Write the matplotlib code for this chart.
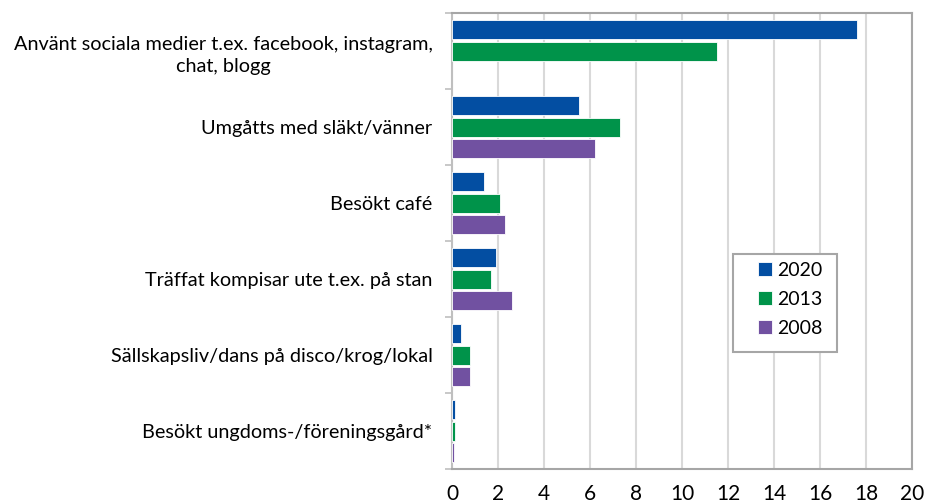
import numpy as np
import matplotlib.pyplot as plt
from matplotlib.patches import Rectangle

# data
categories = ["Använt sociala medier t.ex. facebook, instagram,\nchat, blogg",
              "Umgåtts med släkt/vänner",
              "Besökt café",
              "Träffat kompisar ute t.ex. på stan",
              "Sällskapsliv/dans på disco/krog/lokal",
              "Besökt ungdoms-/föreningsgård*"]
years = ["2020", "2013", "2008"]
v2020 = [17.6, 5.5, 1.4, 1.9, 0.4, 0.15]
v2013 = [11.5, 7.3, 2.1, 1.7, 0.8, 0.13]
v2008 = [np.nan, 6.2, 2.3, 2.6, 0.8, 0.1]
colors = ["#034ea2", "#00934a", "#7151a1"]

plt.rcParams['font.family'] = ['Lato', 'DejaVu Sans']

fig = plt.figure(figsize=(9.25, 5.04), dpi=100)
ax = fig.add_axes([0.4886, 0.0694, 0.4975, 0.9048])

y = np.arange(len(categories))
pitch = 0.285
for k, (vals, col, lab) in enumerate(zip([v2020, v2013, v2008], colors, years)):
    ax.barh(y + (k - 1) * pitch, vals, height=0.25, color=col, label=lab,
            edgecolor="white", linewidth=0.6, zorder=3)

ax.set_xlim(0, 20)
ax.set_ylim(len(categories) - 0.5, -0.5)
ax.set_xticks(np.arange(0, 21, 2))
ax.grid(axis="x", color="#d9d9d9", linewidth=1.5, zorder=0)

# category ticks at group boundaries
ax.set_yticks(np.arange(-0.5, len(categories), 1.0))
ax.set_yticklabels([])
ax.set_yticks(y, minor=True)
ax.set_yticklabels(categories, minor=True, fontsize=14.3,
                   multialignment="center", linespacing=1.4)
ax.tick_params(axis="y", which="major", length=5, color="#bfbfbf", width=1.2)
ax.tick_params(axis="y", which="minor", length=0, pad=14)
ax.tick_params(axis="x", length=0, pad=11, labelsize=15)

for s in ax.spines.values():
    s.set_color("#a6a6a6")
    s.set_linewidth(1.5)
ax.spines["left"].set_color("#bfbfbf")

# legend with wide left padding like the original box
ax.add_patch(Rectangle((0.611, 0.256), 0.226, 0.215, transform=ax.transAxes,
                       facecolor="white", edgecolor="#a6a6a6", linewidth=1.5,
                       zorder=4))
leg = ax.legend(loc="upper right", bbox_to_anchor=(0.806, 0.455), fontsize=14,
                frameon=False, handlelength=0.7, handleheight=0.7,
                labelspacing=0.62, borderpad=0, handletextpad=0.3,
                borderaxespad=0)
leg.set_zorder(5)

fig.savefig("out.png", dpi=100)
